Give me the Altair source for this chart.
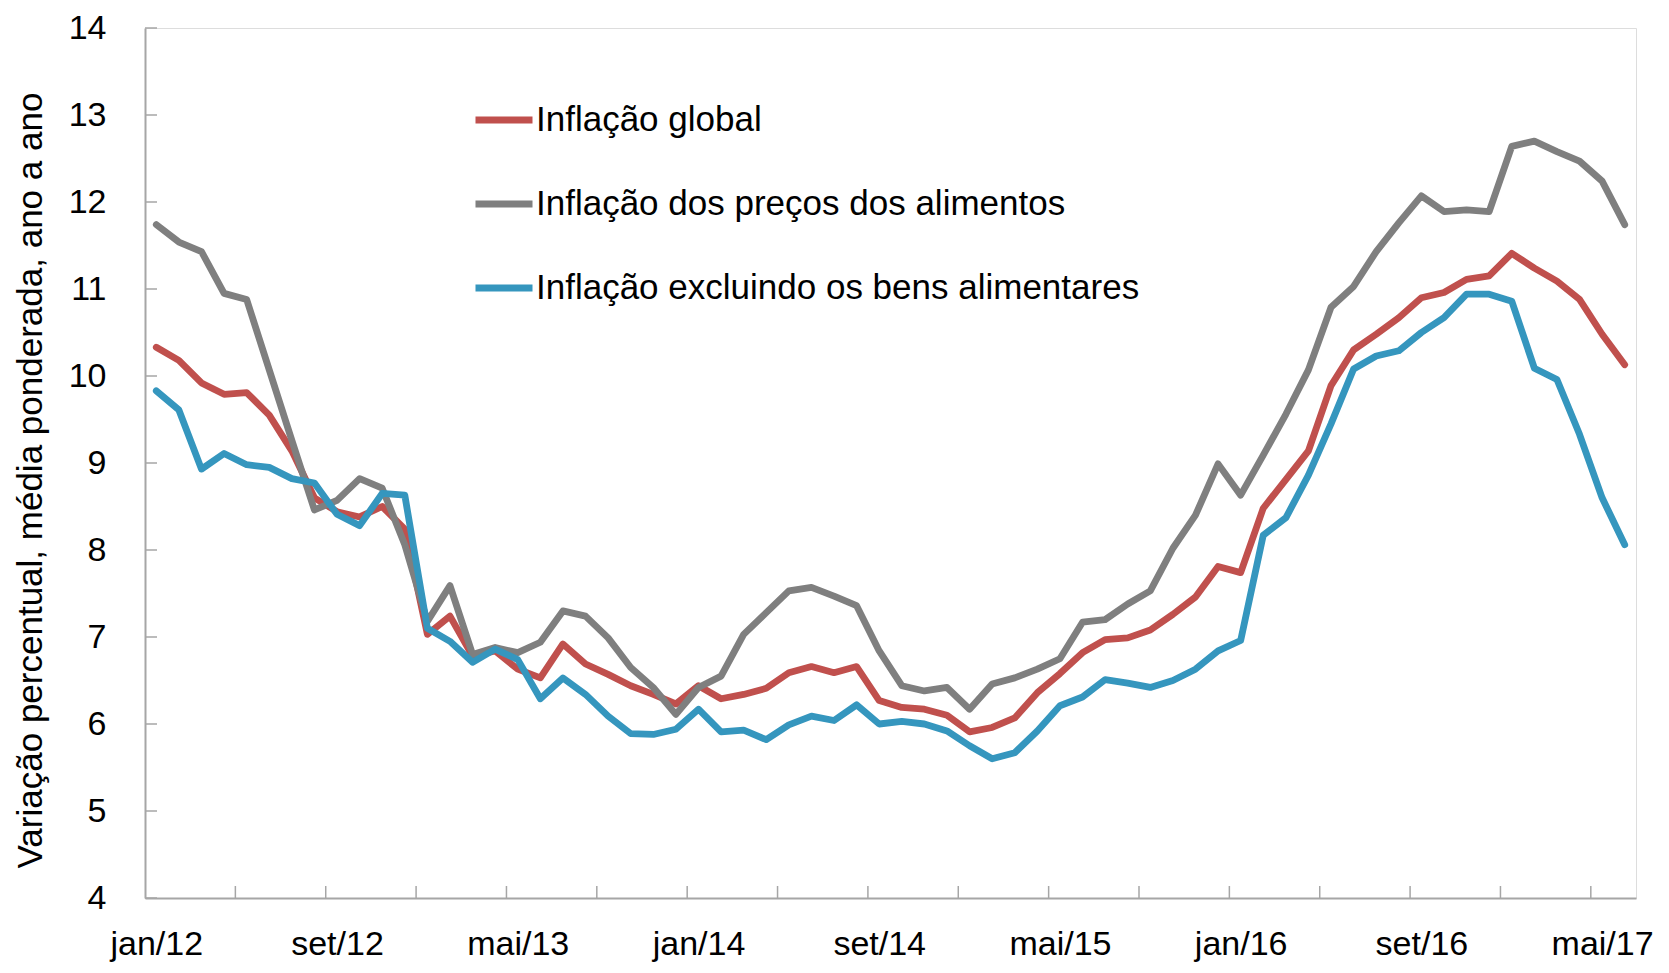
import json
import altair as alt
import pandas as pd

FONT = "Liberation Sans, Arial, DejaVu Sans, sans-serif"
GREY_AXIS = "#A6A6A6"

series_names = [
    "Inflação global",
    "Inflação dos preços dos alimentos",
    "Inflação excluindo os bens alimentares",
]
series_colors = ["#C0504D", "#7F7F7F", "#3596BE"]

# monthly values, jan/12 ... jun/17 (66 months)
global_infl = [
    10.33, 10.18, 9.92, 9.79, 9.81, 9.55, 9.14, 8.60, 8.44, 8.38, 8.50, 8.24,
    7.03, 7.24, 6.78, 6.84, 6.63, 6.53, 6.92, 6.69, 6.57, 6.44, 6.34, 6.23,
    6.44, 6.29, 6.34, 6.41, 6.59, 6.66, 6.59, 6.66, 6.27, 6.19, 6.17, 6.10,
    5.91, 5.96, 6.07, 6.36, 6.58, 6.82, 6.97, 6.99, 7.08, 7.26, 7.46, 7.81,
    7.74, 8.48, 8.81, 9.14, 9.89, 10.30, 10.48, 10.67, 10.90, 10.96, 11.11, 11.15,
    11.41, 11.24, 11.09, 10.88, 10.48, 10.13,
]
food_infl = [
    11.74, 11.54, 11.43, 10.95, 10.88, 10.07, 9.26, 8.46, 8.57, 8.82, 8.71, 8.06,
    7.18, 7.59, 6.80, 6.88, 6.82, 6.94, 7.30, 7.24, 6.99, 6.65, 6.42, 6.11,
    6.42, 6.55, 7.03, 7.28, 7.53, 7.57, 7.47, 7.36, 6.84, 6.44, 6.38, 6.42,
    6.17, 6.46, 6.53, 6.63, 6.75, 7.17, 7.20, 7.38, 7.53, 8.02, 8.40, 8.99,
    8.63, 9.09, 9.56, 10.07, 10.79, 11.03, 11.43, 11.76, 12.07, 11.89, 11.91, 11.89,
    12.64, 12.70, 12.58, 12.47, 12.24, 11.74,
]
nonfood_infl = [
    9.83, 9.61, 8.93, 9.11, 8.98, 8.95, 8.82, 8.77, 8.41, 8.28, 8.65, 8.63,
    7.10, 6.95, 6.71, 6.86, 6.74, 6.29, 6.53, 6.34, 6.09, 5.89, 5.88, 5.94,
    6.17, 5.91, 5.93, 5.82, 5.99, 6.09, 6.04, 6.22, 6.00, 6.03, 6.00, 5.92,
    5.75, 5.60, 5.67, 5.92, 6.21, 6.31, 6.51, 6.47, 6.42, 6.50, 6.63, 6.84,
    6.96, 8.17, 8.37, 8.86, 9.45, 10.08, 10.23, 10.29, 10.50, 10.67, 10.94, 10.94,
    10.86, 10.09, 9.96, 9.33, 8.60, 8.06,
]

tick_labels = ["jan/12", "set/12", "mai/13", "jan/14", "set/14", "mai/15", "jan/16", "set/16", "mai/17"]
tick_months = [0, 8, 16, 24, 32, 40, 48, 56, 64]
x_tick_marks = [3.5, 7.5, 11.5, 15.5, 19.5, 23.5, 27.5, 31.5, 35.5, 39.5, 43.5, 47.5, 51.5, 55.5, 59.5, 63.5]
y_tick_values = [4, 5, 6, 7, 8, 9, 10, 11, 12, 13, 14]

rows = []
for name, vals in zip(series_names, [global_infl, food_infl, nonfood_infl]):
    for i, v in enumerate(vals):
        rows.append({"month": i, "value": v, "serie": name})
df = pd.DataFrame(rows)

W, H = 1491, 870
xscale = alt.Scale(domain=[-0.5, 65.5], nice=False, zero=False)
yscale = alt.Scale(domain=[4, 14], nice=False, zero=False)

label_expr = json.dumps(tick_labels) + "[round(datum.value / 8)]"

x_axis = alt.Axis(
    values=tick_months,
    labelExpr=label_expr,
    ticks=False,
    grid=False,
    domainColor=GREY_AXIS,
    domainWidth=2,
    labelFont=FONT,
    labelFontSize=34,
    labelColor="#000000",
    labelPadding=56,
    labelBaseline="alphabetic",
    labelFlush=False,
    labelOverlap=False,
    title=None,
)
y_axis = alt.Axis(
    values=y_tick_values,
    ticks=False,
    grid=False,
    domainColor=GREY_AXIS,
    domainWidth=2,
    labelFont=FONT,
    labelFontSize=34,
    labelColor="#000000",
    labelPadding=39,
    labelBaseline="middle",
    labelFlush=False,
    labelOverlap=False,
    title="Variação percentual, média ponderada, ano a ano",
    titleFont=FONT,
    titleFontSize=35,
    titleFontWeight="normal",
    titleColor="#000000",
    titleAngle=270,
    titleAlign="center",
    titleBaseline="middle",
    titleX=-115,
    titleY=452,
)

lines = alt.Chart(df).mark_line(strokeWidth=6.8, strokeCap="round", strokeJoin="round").encode(
    x=alt.X("month:Q", scale=xscale, axis=x_axis),
    y=alt.Y("value:Q", scale=yscale, axis=y_axis),
    color=alt.Color(
        "serie:N",
        scale=alt.Scale(domain=series_names, range=series_colors),
        sort=series_names,
        legend=alt.Legend(
            orient="none",
            legendX=327,
            legendY=60,
            title=None,
            symbolType="stroke",
            symbolSize=3250,
            symbolStrokeWidth=6.8,
            labelFont=FONT,
            labelFontSize=35,
            labelColor="#000000",
            labelOffset=0,
            labelLimit=1200,
            rowPadding=34,
            padding=0,
        ),
    ),
)

ytick_df = pd.DataFrame({"value": y_tick_values})
yticks = alt.Chart(ytick_df).mark_rule(color=GREY_AXIS, strokeWidth=1.5).encode(
    y=alt.Y("value:Q", scale=yscale, axis=y_axis),
    x=alt.value(0),
    x2=alt.value(12),
)

xtick_df = pd.DataFrame({"month": x_tick_marks})
xticks = alt.Chart(xtick_df).mark_rule(color=GREY_AXIS, strokeWidth=1.5).encode(
    x=alt.X("month:Q", scale=xscale, axis=x_axis),
    y=alt.value(H - 12),
    y2=alt.value(H),
)

chart = (
    alt.layer(lines, yticks, xticks)
    .properties(
        width=W,
        height=H,
        autosize=alt.AutoSizeParams(type="none"),
        padding={"left": 137, "top": 20, "right": 25, "bottom": 64},
    )
    .configure_view(stroke=GREY_AXIS, strokeWidth=2)
    .configure(background="white")
)

chart.save("out.html", embed_options={"renderer": "svg", "actions": False})
